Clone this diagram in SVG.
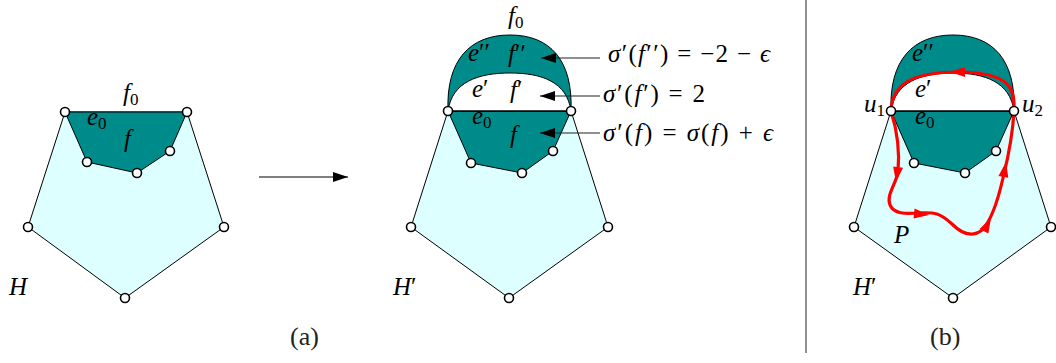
<svg xmlns="http://www.w3.org/2000/svg" width="1056" height="363" viewBox="0 0 1056 363">
<style>
text{font-family:"Liberation Serif",serif}
.hull{fill:#DEFFFF;stroke:#000;stroke-width:1}
.face{fill:#008B8B;stroke:#000;stroke-width:1}
.hole{fill:#fff;stroke:#000;stroke-width:1}
.edge{fill:none;stroke:#000;stroke-width:1}
.v{fill:#fff;stroke:#000;stroke-width:1.6}
.red{fill:none;stroke:#f00;stroke-width:3.2;stroke-linejoin:round}
.ptr{stroke:#222;stroke-width:1.1;fill:none}
</style>
<defs>
<marker id="ah" markerUnits="userSpaceOnUse" markerWidth="16" markerHeight="10" refX="15" refY="5" orient="auto">
<path d="M0,0 L15,5 L0,10 Z" fill="#000"/>
</marker>
<path id="rh" d="M0,0 L-15,-5 L-15,5 Z" fill="#f00"/>
</defs>

<!-- Panel (a) -->
<g id="panel-a">
<polygon class="hull" points="65,112 28,227 125,298 224,227 187,112"/>
<polygon class="face" points="65,112 187,112 170,151 137,173 87,162"/>
<g id="a-v1"><circle class="v" cx="65" cy="112" r="4.5"/></g>
<g id="a-v2"><circle class="v" cx="187" cy="112" r="4.5"/></g>
<g id="a-v3"><circle class="v" cx="170" cy="151" r="4.5"/></g>
<g id="a-v4"><circle class="v" cx="137" cy="173" r="4.5"/></g>
<g id="a-v5"><circle class="v" cx="87" cy="162" r="4.5"/></g>
<g id="a-v6"><circle class="v" cx="28" cy="227" r="4.5"/></g>
<g id="a-v7"><circle class="v" cx="125" cy="298" r="4.5"/></g>
<g id="a-v8"><circle class="v" cx="224" cy="227" r="4.5"/></g>
<text font-family="Liberation Serif" font-size="25" font-style="italic" x="123" y="101">f<tspan font-size="17" font-style="normal" dy="4">0</tspan></text>
<text font-family="Liberation Serif" font-size="25" font-style="italic" x="87" y="125">e<tspan font-size="17" font-style="normal" dy="4">0</tspan></text>
<text font-family="Liberation Serif" font-size="25" font-style="italic" x="124" y="147">f</text>
<text font-family="Liberation Serif" font-size="25" font-style="italic" x="9" y="295">H</text>
<text font-family="Liberation Serif" font-size="26" fill="#222" x="290" y="345">(a)</text>
</g>

<!-- Panel (a) right: H' -->
<g id="panel-a2">
<polygon class="hull" points="448,111 411,227 509,298 608,227 571,111"/>
<polygon class="face" points="448,111 571,111 553,151 522,173 471,163"/>
<path class="face" d="M448,111 C446,60 470,35 510,35 C550,35 573,60 571,111 Z"/>
<path class="hole" d="M448,111 C452,82 478,73 510,73 C542,73 567,82 571,111 Z"/>
<line class="edge" x1="448" y1="111" x2="571" y2="111"/>
<g id="b-v1"><circle class="v" cx="448" cy="111" r="4.5"/></g>
<g id="b-v2"><circle class="v" cx="571" cy="111" r="4.5"/></g>
<g id="b-v3"><circle class="v" cx="553" cy="151" r="4.5"/></g>
<g id="b-v4"><circle class="v" cx="522" cy="173" r="4.5"/></g>
<g id="b-v5"><circle class="v" cx="471" cy="163" r="4.5"/></g>
<g id="b-v6"><circle class="v" cx="411" cy="227" r="4.5"/></g>
<g id="b-v7"><circle class="v" cx="509" cy="298" r="4.5"/></g>
<g id="b-v8"><circle class="v" cx="608" cy="227" r="4.5"/></g>
<text font-family="Liberation Serif" font-size="25" font-style="italic" x="508" y="24">f<tspan font-size="17" font-style="normal" dy="4">0</tspan></text>
<text font-family="Liberation Serif" font-size="25" font-style="italic" x="468" y="61">e<tspan font-style="normal">′′</tspan></text>
<text font-family="Liberation Serif" font-size="25" font-style="italic" x="508" y="62">f<tspan font-style="normal">′′</tspan></text>
<text font-family="Liberation Serif" font-size="25" font-style="italic" x="472" y="97">e<tspan font-style="normal">′</tspan></text>
<text font-family="Liberation Serif" font-size="25" font-style="italic" x="510" y="98">f<tspan font-style="normal">′</tspan></text>
<text font-family="Liberation Serif" font-size="25" font-style="italic" x="472" y="124">e<tspan font-size="17" font-style="normal" dy="4">0</tspan></text>
<text font-family="Liberation Serif" font-size="25" font-style="italic" x="510" y="143">f</text>
<text font-family="Liberation Serif" font-size="25" font-style="italic" x="393" y="295">H<tspan font-style="normal">′</tspan></text>
<text font-family="Liberation Serif" font-size="25" font-style="italic" x="608" y="62" textLength="162" lengthAdjust="spacing">σ<tspan font-style="normal">′(</tspan>f<tspan font-style="normal">′′) = −2 − </tspan>ϵ</text>
<text font-family="Liberation Serif" font-size="25" font-style="italic" x="603" y="102" textLength="102" lengthAdjust="spacing">σ<tspan font-style="normal">′(</tspan>f<tspan font-style="normal">′) = 2</tspan></text>
<text font-family="Liberation Serif" font-size="25" font-style="italic" x="603" y="141" textLength="170" lengthAdjust="spacing">σ<tspan font-style="normal">′(</tspan>f<tspan font-style="normal">) = </tspan>σ<tspan font-style="normal">(</tspan>f<tspan font-style="normal">) + </tspan>ϵ</text>
</g>

<!-- Panel (b) -->
<g id="panel-b">
<polygon class="hull" points="891,111 854,227 953,298 1051,227 1014,111"/>
<polygon class="face" points="891,111 1014,111 996,151 965,173 914,163"/>
<path class="face" d="M891,111 C889,60 913,35 953,35 C993,35 1016,60 1014,111 Z"/>
<path class="hole" d="M891,111 C895,82 921,73 953,73 C985,73 1010,82 1014,111 Z"/>
<line class="edge" x1="891" y1="111" x2="1014" y2="111"/>
<g id="c-v3"><circle class="v" cx="996" cy="151" r="4.5"/></g>
<g id="c-v4"><circle class="v" cx="965" cy="173" r="4.5"/></g>
<g id="c-v5"><circle class="v" cx="914" cy="163" r="4.5"/></g>
<g id="c-v6"><circle class="v" cx="854" cy="227" r="4.5"/></g>
<g id="c-v7"><circle class="v" cx="953" cy="298" r="4.5"/></g>
<g id="c-v8"><circle class="v" cx="1051" cy="227" r="4.5"/></g>
<text font-family="Liberation Serif" font-size="25" font-style="italic" x="912" y="61">e<tspan font-style="normal">′′</tspan></text>
<text font-family="Liberation Serif" font-size="25" font-style="italic" x="915" y="97">e<tspan font-style="normal">′</tspan></text>
<text font-family="Liberation Serif" font-size="25" font-style="italic" x="915" y="124">e<tspan font-size="17" font-style="normal" dy="4">0</tspan></text>
<text font-family="Liberation Serif" font-size="25" font-style="italic" x="864" y="112">u<tspan font-size="17" font-style="normal" dy="4">1</tspan></text>
<text font-family="Liberation Serif" font-size="25" font-style="italic" x="1022" y="112">u<tspan font-size="17" font-style="normal" dy="4">2</tspan></text>
<text font-family="Liberation Serif" font-size="25" font-style="italic" x="894" y="243">P</text>
<text font-family="Liberation Serif" font-size="25" font-style="italic" x="853" y="295">H<tspan font-style="normal">′</tspan></text>
<text font-family="Liberation Serif" font-size="26" fill="#222" x="930" y="345">(b)</text>
</g>

<!-- Connectors -->
<g id="connectors">
<line x1="259" y1="177" x2="348" y2="177" stroke="#000" stroke-width="1.2" marker-end="url(#ah)"/>
<line class="ptr" x1="600" y1="58" x2="541" y2="58" marker-end="url(#ah)"/>
<line class="ptr" x1="600" y1="96" x2="540" y2="96" marker-end="url(#ah)"/>
<line class="ptr" x1="600" y1="133" x2="540" y2="133" marker-end="url(#ah)"/>
<line x1="806" y1="0" x2="806" y2="353" stroke="#222" stroke-width="1"/>
<path id="pathP" class="red" d="M891,111 C897,130 900,150 898,172 C896,184 886,195 890,205 C894,214 905,214 918,213 C935,212 940,213 952,224 C962,234 972,238 982,230 C992,220 998,200 1003,178 C1008,158 1013,130 1014,111 C1015,88 1010,73 960,72 C910,72 892,85 891,111 Z"/>
<use href="#rh" transform="translate(896,182) rotate(98)"/>
<use href="#rh" transform="translate(929,215) rotate(6)"/>
<use href="#rh" transform="translate(991,218) rotate(-62)"/>
<use href="#rh" transform="translate(1006,162) rotate(-80)"/>
<use href="#rh" transform="translate(950,72) rotate(180)"/>
<g id="c-v1"><circle class="v" cx="891" cy="111" r="4.5"/></g>
<g id="c-v2"><circle class="v" cx="1014" cy="111" r="4.5"/></g>
</g>
</svg>
